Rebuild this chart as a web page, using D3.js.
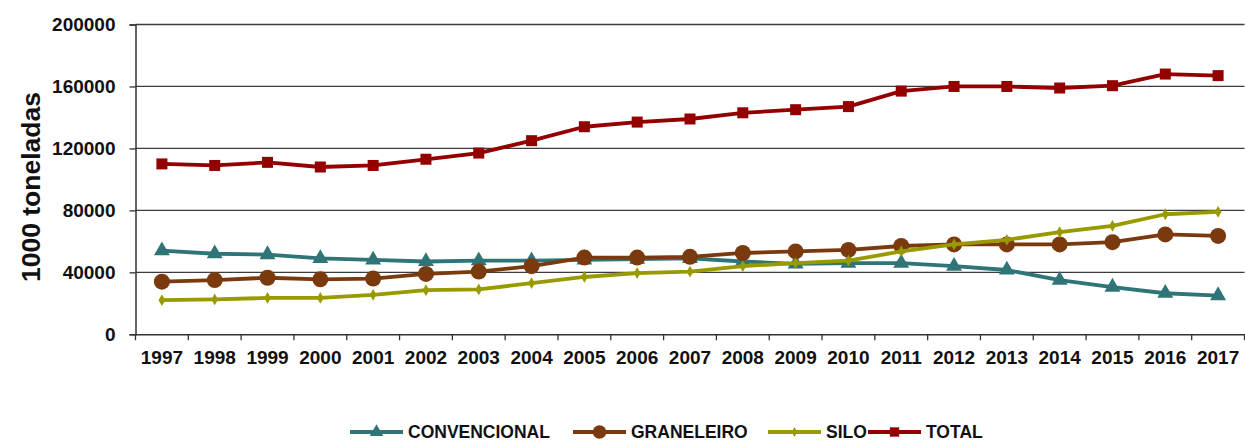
<!DOCTYPE html>
<html><head><meta charset="utf-8">
<script src="https://cdn.jsdelivr.net/npm/d3@7"></script>
<style>body{margin:0;background:#fff}svg{display:block}</style>
</head><body><svg id="c" width="1245" height="441"></svg>
<script>
const years = ["1997","1998","1999","2000","2001","2002","2003","2004","2005","2006","2007","2008","2009","2010","2011","2012","2013","2014","2015","2016","2017"];
const convencional = [54000,52000,51500,49000,48000,47000,47500,47500,48000,48500,49000,47000,45500,46000,46000,44000,41500,35000,30500,26500,25000];
const graneleiro = [34000,35000,36500,35500,36000,39000,40500,44000,49500,49500,50000,52500,53500,54500,57000,58000,58000,58000,59500,64500,63500];
const silo = [22000,22500,23500,23500,25500,28500,29000,33000,37000,39500,40500,44000,46000,47500,53500,58000,61000,66000,70000,77500,79000];
const total = [110000,109000,111000,108000,109000,113000,117000,125000,134000,137000,139000,143000,145000,147000,157000,160000,160000,159000,160500,168000,167000];
const yTicks = [0,40000,80000,120000,160000,200000];
const seriesNames = ["CONVENCIONAL","GRANELEIRO","SILO","TOTAL"];
const seriesColors = ["#2f7577","#7a3a0e","#999a00","#940000"];
const seriesMarkers = ["triangle","circle","diamond","square"];
const yTitle = "1000 toneladas";

const series = [convencional, graneleiro, silo, total];
const svg = d3.select("#c");
const m = {l:135.5, r:1244.5, t:24.5, b:334.3};
const x = d3.scaleBand().domain(years).range([m.l, m.r]);
const y = d3.scaleLinear().domain([0,200000]).range([m.b, m.t]);
const font = "Arial, 'Liberation Sans', sans-serif";

// gridlines
svg.append("g").selectAll("line").data(yTicks.slice(1)).join("line")
  .attr("x1", m.l).attr("x2", m.r).attr("y1", d=>y(d)).attr("y2", d=>y(d))
  .attr("stroke","#3c3c3c").attr("stroke-width",1.3);

// y axis
const ya = svg.append("g").attr("transform",`translate(${m.l},0)`)
  .call(d3.axisLeft(y).tickValues(yTicks).tickSize(6).tickPadding(14).tickFormat(d3.format("d")));
ya.select(".domain").attr("stroke","#333").attr("stroke-width",1.5);
ya.selectAll(".tick line").attr("stroke","#333").attr("stroke-width",1.3);
ya.selectAll("text").attr("font-family",font).attr("font-weight","bold").attr("font-size",19).attr("fill","#111");

// x axis
const xa = svg.append("g").attr("transform",`translate(0,${m.b})`)
  .call(d3.axisBottom(x).tickSize(0).tickPadding(16));
xa.select(".domain").attr("stroke","#333").attr("stroke-width",1.5);
xa.selectAll(".tick text").attr("font-family",font).attr("font-weight","bold").attr("font-size",19).attr("fill","#111");
// tick marks at band boundaries
const bounds = years.map(d=>x(d)).concat([x(years[years.length-1])+x.bandwidth()]);
xa.append("g").selectAll("line").data(bounds).join("line")
  .attr("x1",d=>d).attr("x2",d=>d).attr("y1",0).attr("y2",6)
  .attr("stroke","#333").attr("stroke-width",1.3);

// y title
svg.append("text").attr("transform","translate(40,187) rotate(-90)")
  .attr("text-anchor","middle").attr("font-family",font).attr("font-weight","bold")
  .attr("font-size",26.5).attr("fill","#111").text(yTitle);

function marker(g, type, color, cx, cy, scale) {
  const s = scale || 1;
  if (type==="triangle") {
    g.append("path").attr("d", d3.symbol(d3.symbolTriangle, 110*s*s)()).attr("transform",`translate(${cx},${cy})`).attr("fill",color);
  } else if (type==="circle") {
    g.append("circle").attr("cx",cx).attr("cy",cy).attr("r",8*s).attr("fill",color);
  } else if (type==="diamond") {
    g.append("path").attr("d", d3.symbol(d3.symbolDiamond, 40*s*s)()).attr("transform",`translate(${cx},${cy})`).attr("fill",color);
  } else {
    g.append("rect").attr("x",cx-5.5*s).attr("y",cy-5.5*s).attr("width",11*s).attr("height",11*s).attr("fill",color);
  }
}

const line = d3.line().x((d,i)=>x(years[i])+x.bandwidth()/2).y(d=>y(d));
series.forEach((vals, si) => {
  const g = svg.append("g");
  g.append("path").attr("d", line(vals)).attr("fill","none").attr("stroke",seriesColors[si]).attr("stroke-width",3.8).attr("stroke-linejoin","round");
  vals.forEach((v,i)=> marker(g, seriesMarkers[si], seriesColors[si], x(years[i])+x.bandwidth()/2, y(v)));
});

// legend
const legX = [350, 573, 768, 868];
const lg = svg.append("g");
seriesNames.forEach((n,i)=>{
  const lx = legX[i], ly = 432;
  lg.append("line").attr("x1",lx).attr("x2",lx+53).attr("y1",ly).attr("y2",ly).attr("stroke",seriesColors[i]).attr("stroke-width",4);
  marker(lg, seriesMarkers[i], seriesColors[i], lx+26.5, ly, 0.85);
  lg.append("text").attr("x",lx+58).attr("y",ly+6).attr("font-family",font).attr("font-weight","bold")
    .attr("font-size",17.5).attr("fill","#111").text(n);
});
</script></body></html>
